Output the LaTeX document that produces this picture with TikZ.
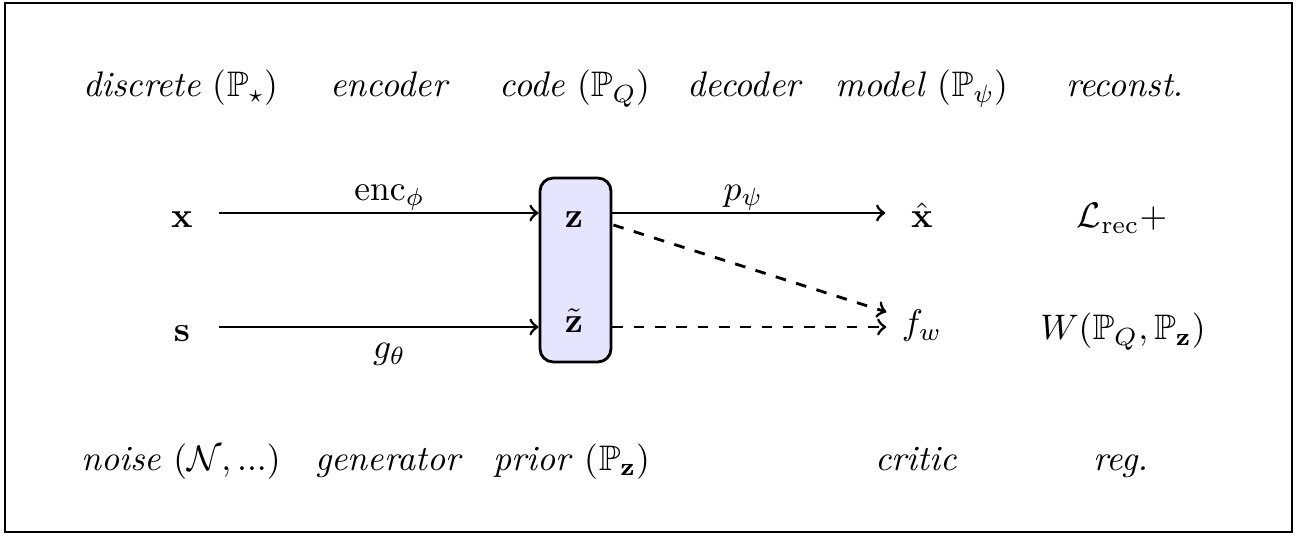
\documentclass[tikz,border=0pt]{standalone}
\usepackage{amsmath,amssymb}
\usetikzlibrary{calc}
\begin{document}
\begin{tikzpicture}[x=0.28169pt,y=-0.28169pt,
  lbl/.style={anchor=base,inner sep=0pt},
  rowtop/.style={inner sep=0pt,text height=8.45pt,text depth=0pt,minimum width=20.3pt},
  rowlow/.style={inner sep=0pt,text height=4.5pt,text depth=0pt,minimum width=19.7pt},
  conn/.style={thick,->},
  dconn/.style={thick,->,dashed},
  alab/.style={above,inner sep=0.3pt},
  blab/.style={below,inner sep=4.3pt},
  codebox/.style={draw,thick,fill=blue!10,rounded corners=3.7pt,minimum width=20pt,minimum height=51.8pt,inner sep=0pt}]
\useasboundingbox (0,0) rectangle (1299,535);
\draw[semithick] (5,3) rectangle (1292,532);
% top labels
\node[lbl] (t1) at (181,97) {\textit{discrete} ($\mathbb{P}_\star$)};
\node[lbl] (t2) at (390,97) {\textit{encoder}};
\node[lbl] (t3) at (575,97) {\textit{code} ($\mathbb{P}_Q$)};
\node[lbl] (t4) at (745,97) {\textit{decoder}};
\node[lbl] (t5) at (922,97) {\textit{model} ($\mathbb{P}_\psi$)};
\node[lbl] (t6) at (1125,97) {\textit{reconst.}};
% bottom labels
\node[lbl] (b1) at (181,470) {\textit{noise} $(\mathcal{N}, ...)$};
\node[lbl] (b2) at (389,470) {\textit{generator}};
\node[lbl] (b3) at (572,470) {\textit{prior} ($\mathbb{P}_{\mathbf{z}}$)};
\node[lbl] (b5) at (916,470) {\textit{critic}};
\node[lbl] (b6) at (1121,470) {\textit{reg.}};
% box
\node[codebox] (box) at (575.5,270) {};
\node[lbl] (z) at (574,228) {$\mathbf{z}$};
\node[lbl] (zt) at (574,333) {$\tilde{\mathbf{z}}$};
% row nodes
\node[rowtop] (x) at (182,213) {$\mathbf{x}$};
\node[rowtop] (s) at (182,327) {$\mathbf{s}$};
\node[rowtop] (xh) at (922,213) {$\hat{\mathbf{x}}$};
\node[rowlow] (fw) at (922,327) {$f_w$};
\node[lbl] (L) at (1122,228) {$\mathcal{L}_{\text{rec}}{+}$};
\node[lbl] (W) at (1123,340) {$W(\mathbb{P}_Q,\mathbb{P}_{\mathbf{z}})$};
% connectors
\draw[conn] (x) -- node[pos=0.534,alab] {$\mathrm{enc}_\phi$} (x -| box.west);
\draw[conn] (s) -- node[pos=0.534,blab] {$g_\theta$} (s -| box.west);
\draw[conn] (box.east |- x) -- node[pos=0.48,alab] {$p_\psi$} (xh);
\draw[dconn] ($(box.east |- x)+(1,12)$) -- ($(fw.west)+(0,-15)$);
\draw[dconn] (box.east |- fw) -- (fw);
\end{tikzpicture}
\end{document}
